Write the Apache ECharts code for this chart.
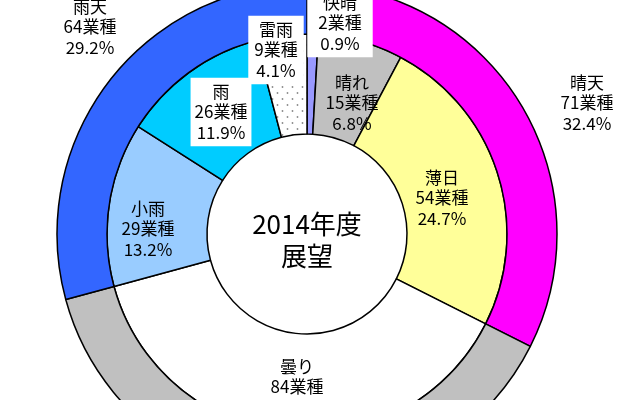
<!DOCTYPE html>
<html>
<head>
<meta charset="utf-8">
<script src="https://cdn.jsdelivr.net/npm/echarts@6/dist/echarts.min.js"></script>
<style>
html,body{margin:0;padding:0;background:#fff;}
#chart{width:640px;height:400px;}
</style>
</head>
<body>
<div id="chart"></div>
<script>
// ---- data ----
const middleNames  = ['快晴', '晴れ', '薄日', '曇り', '小雨', '雨', '雷雨'];
const middleCounts = [2, 15, 54, 84, 29, 26, 9];
const outerNames   = ['晴天', '曇り', '雨天'];
const outerCounts  = [71, 84, 64];
const centerTitle  = '2014年度\n展望';
const unitLabel    = '業種';

// ---- styles / layout ----
function dotPattern() {
  const c = document.createElement('canvas');
  c.width = 10; c.height = 12;
  const g = c.getContext('2d');
  g.fillStyle = '#ffffff'; g.fillRect(0, 0, 10, 12);
  g.fillStyle = '#8a8a8a';
  g.beginPath(); g.arc(2.5, 3, 0.9, 0, Math.PI * 2); g.fill();
  g.beginPath(); g.arc(7.5, 9, 0.9, 0, Math.PI * 2); g.fill();
  return { image: c, repeat: 'repeat' };
}
const middleColors = ['#9999ff', '#c0c0c0', '#ffff99', '#ffffff', '#99ccff', '#00ccff', dotPattern()];
const outerColors  = ['#ff00ff', '#c0c0c0', '#3366ff'];
const middleBoxed  = [true, false, false, false, false, true, true];
const middleBoxPad = [[3, 11, 4, 11], 0, 0, 0, 0, [3, 4, 4, 4], [3, 6, 4, 6]];
const outerShow    = [true, false, true];
const middleLabelPos = [[340, 23], [352, 103], [442, 198], [297, 387], [148, 229], [221, 112], [276, 50]];
const outerLabelPos  = [[587, 103], null, [90, 27]];

const total = middleCounts.reduce((a, b) => a + b, 0);
const fontFamily = '"Noto Sans CJK JP", "Noto Sans", sans-serif';
const fmt = p => p.name + '\n' + p.value + unitLabel + '\n' + (p.value / total * 100).toFixed(1) + '%';

const middleData = middleNames.map((n, i) => ({
  name: n, value: middleCounts[i],
  itemStyle: { color: middleColors[i] },
  label: middleBoxed[i] ? { backgroundColor: '#ffffff', padding: middleBoxPad[i] } : {}
}));
const outerData = outerNames.map((n, i) => ({
  name: n, value: outerCounts[i],
  itemStyle: { color: outerColors[i] },
  label: { show: outerShow[i] }
}));

const labelBase = {
  show: true, position: 'inside', formatter: fmt,
  color: '#000', fontSize: 17, lineHeight: 20.5, fontFamily: fontFamily
};
const makeLayout = posArr => params => {
  const p = posArr[params.dataIndex];
  if (!p) return {};
  return { x: p[0], y: p[1], align: 'center', verticalAlign: 'middle' };
};

const chart = echarts.init(document.getElementById('chart'), null, { renderer: 'canvas' });
chart.setOption({
  animation: false,
  backgroundColor: '#ffffff',
  graphic: [{
    type: 'text', x: 307, y: 240, z: 100,
    style: {
      text: centerTitle, fill: '#000', textAlign: 'center', textVerticalAlign: 'middle',
      fontSize: 26, lineHeight: 32, fontFamily: fontFamily
    }
  }],
  series: [
    {
      type: 'pie', center: [307, 234], radius: [100, 200],
      startAngle: 90, clockwise: true, avoidLabelOverlap: false,
      silent: true, labelLine: { show: false },
      itemStyle: { borderColor: '#000', borderWidth: 1.5 },
      label: labelBase,
      labelLayout: makeLayout(middleLabelPos),
      data: middleData
    },
    {
      type: 'pie', center: [307, 234], radius: [200, 250],
      startAngle: 90, clockwise: true, avoidLabelOverlap: false,
      silent: true, labelLine: { show: false },
      itemStyle: { borderColor: '#000', borderWidth: 1.5 },
      label: labelBase,
      labelLayout: makeLayout(outerLabelPos),
      data: outerData
    }
  ]
});
</script>
</body>
</html>
